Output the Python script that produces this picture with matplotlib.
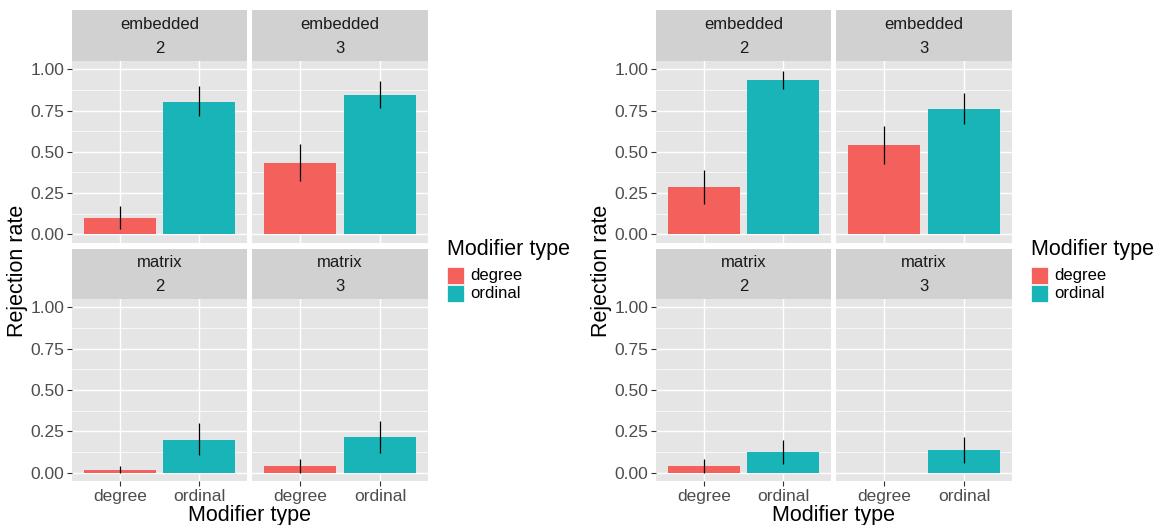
#!/usr/bin/env python3
"""Rejection rate by modifier type, faceted by structure x depth (two studies side by side)."""

import numpy as np
import matplotlib
matplotlib.use("Agg")
import matplotlib.pyplot as plt
from matplotlib.patches import Rectangle

# ---- data -------------------------------------------------------------
MODIFIERS = ["degree", "ordinal"]
STRUCTURES = ["embedded", "matrix"]
DEPTHS = ["2", "3"]

# indexed [structure][depth][modifier]
left_rate = [[[0.100, 0.803], [0.433, 0.844]],
             [[0.014, 0.200], [0.038, 0.216]]]
left_lo = [[[0.030, 0.717], [0.322, 0.765]],
           [[0.000, 0.107], [0.000, 0.121]]]
left_hi = [[[0.170, 0.900], [0.546, 0.929]],
           [[0.040, 0.299], [0.081, 0.313]]]

right_rate = [[[0.287, 0.937], [0.542, 0.759]],
              [[0.038, 0.127], [0.000, 0.137]]]
right_lo = [[[0.182, 0.883], [0.429, 0.666]],
            [[0.000, 0.050], [np.nan, 0.060]]]
right_hi = [[[0.389, 0.990], [0.656, 0.858]],
            [[0.080, 0.200], [np.nan, 0.218]]]

Y_TICKS = [0.0, 0.25, 0.5, 0.75, 1.0]
Y_TICK_LABELS = ["0.00", "0.25", "0.50", "0.75", "1.00"]

# ---- style ------------------------------------------------------------
W, H = 1154, 525
DPI = 100
FILL = {"degree": "#F4605B", "ordinal": "#18B4B8"}
PANEL_BG = "#E5E5E5"
STRIP_BG = "#D1D1D1"
TICK_COL = "#4D4D4D"
FONT = ["Liberation Sans", "DejaVu Sans"]

plt.rcParams.update({
    "font.family": FONT,
    "font.size": 12,
})

COLS = [(72, 247), (252, 428)]
ROWS = [(61, 242.7), (299, 481)]
STRIPS = [(10, 61), (248.5, 299)]


def px_axes(fig, x0, y0, x1, y1):
    return fig.add_axes([x0 / W, 1 - y1 / H, (x1 - x0) / W, (y1 - y0) / H])


def draw_study(fig, ox, rate, lo, hi):
    xs = np.arange(1, len(MODIFIERS) + 1)
    for r, struct in enumerate(STRUCTURES):
        for c, depth in enumerate(DEPTHS):
            x0, x1 = COLS[c][0] + ox, COLS[c][1] + ox
            y0, y1 = ROWS[r]
            ax = px_axes(fig, x0, y0, x1, y1)
            ax.set_facecolor(PANEL_BG)
            for s in ax.spines.values():
                s.set_visible(False)
            ax.set_xlim(0.4, 2.6)
            ax.set_ylim(-0.05, 1.05)

            ax.set_yticks(Y_TICKS)
            ax.set_yticks([0.125, 0.375, 0.625, 0.875], minor=True)
            ax.set_xticks(xs)
            ax.grid(True, which="major", color="white", linewidth=1.0)
            ax.grid(True, which="minor", axis="y", color="white", linewidth=0.5)
            ax.set_axisbelow(True)
            ax.tick_params(which="minor", length=0)
            ax.tick_params(which="major", length=3.5, width=0.8, color="#333333",
                           labelcolor=TICK_COL, labelsize=12.5, pad=2)

            if c == 0:
                ax.set_yticklabels(Y_TICK_LABELS)
            else:
                ax.tick_params(axis="y", length=0, labelleft=False)
            if r == len(STRUCTURES) - 1:
                ax.set_xticklabels(MODIFIERS)
            else:
                ax.tick_params(axis="x", length=0, labelbottom=False)

            vals = rate[r][c]
            ax.bar(xs, vals, width=0.9, color=[FILL[m] for m in MODIFIERS],
                   zorder=2)
            ax.vlines(xs, lo[r][c], hi[r][c], color="black", linewidth=0.9,
                      zorder=3)

            # facet strip
            sy0, sy1 = STRIPS[r]
            sax = px_axes(fig, x0, sy0, x1, sy1)
            sax.set_facecolor(STRIP_BG)
            sax.set_xticks([])
            sax.set_yticks([])
            for s in sax.spines.values():
                s.set_visible(False)
            sax.text(0.5, 0.72, struct, ha="center", va="center",
                     color="#1A1A1A", fontsize=12, transform=sax.transAxes)
            sax.text(0.5, 0.24, depth, ha="center", va="center",
                     color="#1A1A1A", fontsize=12, transform=sax.transAxes)

    # axis titles
    fig.text((18 + ox) / W, 1 - 271 / H, "Rejection rate", rotation=90,
             ha="center", va="center", fontsize=15.5)
    fig.text((COLS[0][0] + COLS[1][1]) / 2 / W + ox / W, 1 - 516 / H,
             "Modifier type", ha="center", va="center", fontsize=15.5)

    # legend
    lx = 447 + ox
    fig.text(lx / W, 1 - 250 / H, "Modifier type", ha="left", va="center",
             fontsize=15.5)
    for i, m in enumerate(MODIFIERS):
        ky = 267 + i * 18
        fig.patches.append(Rectangle((lx / W, 1 - (ky + 17) / H), 17 / W, 17 / H,
                                     transform=fig.transFigure,
                                     facecolor=FILL[m], edgecolor="white",
                                     linewidth=0.5))
        fig.text((lx + 23) / W, 1 - (ky + 8.5) / H, m, ha="left", va="center",
                 fontsize=12)


def main():
    fig = plt.figure(figsize=(W / DPI, H / DPI), dpi=DPI)
    fig.patch.set_facecolor("white")
    draw_study(fig, 0, left_rate, left_lo, left_hi)
    draw_study(fig, 584, right_rate, right_lo, right_hi)
    fig.savefig("out.png", dpi=DPI, facecolor="white")
    plt.close(fig)


if __name__ == "__main__":
    main()
